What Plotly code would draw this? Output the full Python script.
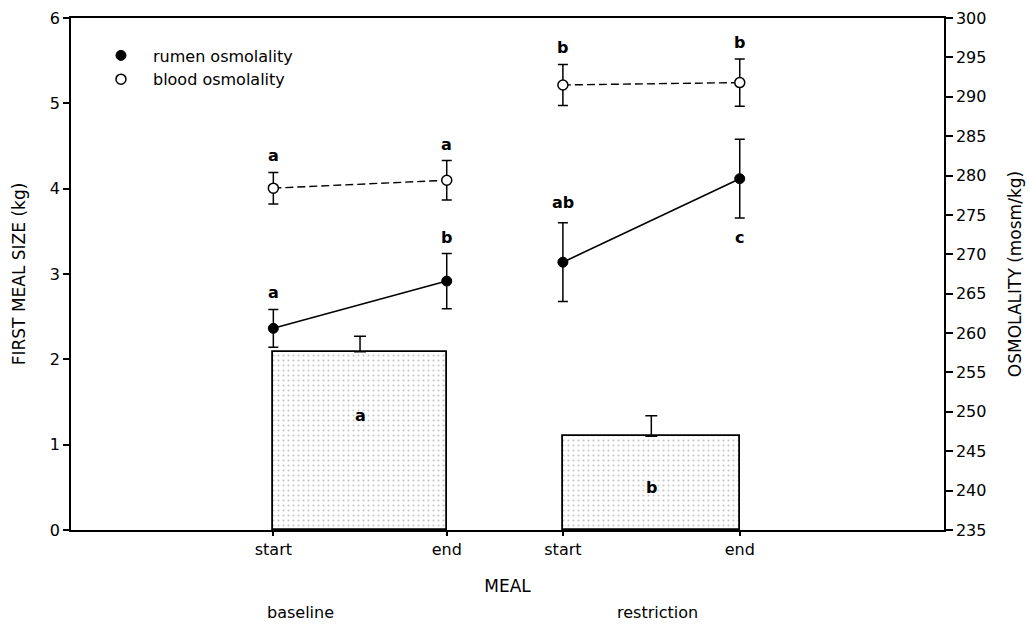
import plotly.graph_objects as go
from plotly.subplots import make_subplots

# x positions of the MEAL start / end points for each period
meal_x = [1.0, 2.0, 2.67, 3.69]
meal_labels = ["start", "end", "start", "end"]
periods = ["baseline", "restriction"]

# first meal size (kg), one bar per period
meal_size = [2.09, 1.10]
meal_size_se = [0.18, 0.24]
meal_size_letters = ["a", "b"]

# rumen and blood osmolality (mosm/kg)
rumen_osm = [260.6, 266.6, 269.0, 279.6]
rumen_se = [2.4, 3.5, 5.0, 5.0]
rumen_letters = ["a", "b", "ab", "c"]

blood_osm = [278.4, 279.4, 291.5, 291.8]
blood_se = [2.0, 2.5, 2.6, 3.0]
blood_letters = ["a", "a", "b", "b"]

FONT = "DejaVu Sans"
BLACK = "black"

fig = make_subplots(specs=[[{"secondary_y": True}]])

# bars span from start to end of each period
bar_x = [(meal_x[0] + meal_x[1]) / 2, (meal_x[2] + meal_x[3]) / 2]
bar_w = [meal_x[1] - meal_x[0], meal_x[3] - meal_x[2]]

fig.add_trace(go.Bar(
    x=bar_x, y=meal_size, width=bar_w,
    marker=dict(color="white", line=dict(color=BLACK, width=1.8),
                pattern=dict(shape=".", fgcolor="#8a8a8a", bgcolor="white",
                             size=5, solidity=0.15, fillmode="overlay")),
    error_y=dict(type="data", symmetric=False, array=meal_size_se,
                 arrayminus=[0, 0], color=BLACK, thickness=1.5, width=6),
    showlegend=False, hoverinfo="skip",
), secondary_y=False)


def gapped(vals):
    # connect start->end inside each period only
    return [vals[0], vals[1], None, vals[2], vals[3]]


gx = [meal_x[0], meal_x[1], None, meal_x[2], meal_x[3]]

fig.add_trace(go.Scatter(x=gx, y=gapped(rumen_osm), mode="lines",
                         line=dict(color=BLACK, width=1.6),
                         showlegend=False, hoverinfo="skip"), secondary_y=True)
fig.add_trace(go.Scatter(x=gx, y=gapped(blood_osm), mode="lines",
                         line=dict(color=BLACK, width=1.4, dash="8px,4px"),
                         showlegend=False, hoverinfo="skip"), secondary_y=True)

fig.add_trace(go.Scatter(
    x=meal_x, y=rumen_osm, mode="markers", name="rumen osmolality",
    marker=dict(symbol="circle", size=10, color=BLACK,
                line=dict(color=BLACK, width=1)),
    error_y=dict(type="data", array=rumen_se, color=BLACK, thickness=1.5, width=5),
), secondary_y=True)
fig.add_trace(go.Scatter(
    x=meal_x, y=blood_osm, mode="markers", name="blood osmolality",
    marker=dict(symbol="circle", size=10, color="white",
                line=dict(color=BLACK, width=1.5)),
    error_y=dict(type="data", array=blood_se, color=BLACK, thickness=1.5, width=5),
), secondary_y=True)

annotations = []
letter_font = dict(family=FONT, size=16, color=BLACK, weight="bold")

# significance letters on the osmolality points
for xv, v, se, lab in zip(meal_x, blood_osm, blood_se, blood_letters):
    annotations.append(dict(x=xv, y=v + se, xref="x", yref="y2", text=lab,
                            showarrow=False, yanchor="bottom", yshift=5,
                            font=letter_font))
for xv, v, se, lab in zip(meal_x, rumen_osm, rumen_se, rumen_letters):
    if lab == "c":
        annotations.append(dict(x=xv, y=v - se, xref="x", yref="y2", text=lab,
                                showarrow=False, yanchor="top", yshift=-8,
                                font=letter_font))
    else:
        annotations.append(dict(x=xv, y=v + se, xref="x", yref="y2", text=lab,
                                showarrow=False, yanchor="bottom",
                                yshift=9 if lab == "ab" else 5,
                                font=letter_font))

# letters inside the bars
for xv, yv, lab in zip(bar_x, [1.34, 0.50], meal_size_letters):
    annotations.append(dict(x=xv, y=yv, xref="x", yref="y", text=lab,
                            showarrow=False, font=letter_font))

# period names under the axis title
for xp, lab in zip([300, 657], periods):
    annotations.append(dict(x=(xp - 71) / 873, y=-0.162, xref="paper", yref="paper",
                            text=lab, showarrow=False, xanchor="center",
                            yanchor="middle",
                            font=dict(family=FONT, size=16, color=BLACK)))

fig.update_layout(
    width=1030, height=625,
    margin=dict(l=71, r=86, t=18, b=95, autoexpand=False),
    paper_bgcolor="white", plot_bgcolor="white",
    font=dict(family=FONT, size=16, color=BLACK),
    bargap=0,
    annotations=annotations,
    legend=dict(x=0.0206, y=0.960, xanchor="left", yanchor="top",
                itemwidth=54,
                bgcolor="rgba(0,0,0,0)", font=dict(family=FONT, size=16),
                tracegroupgap=0),
)

fig.update_xaxes(
    domain=[0, 1],
    range=[-0.167, 4.868], tickmode="array", tickvals=meal_x, ticktext=meal_labels,
    ticks="outside", ticklen=4, tickwidth=1.5, tickcolor=BLACK,
    showline=True, linecolor=BLACK, linewidth=1.5, mirror=True,
    showgrid=False, zeroline=False, automargin=False,
    title=dict(text="MEAL", font=dict(family=FONT, size=17), standoff=22),
    tickfont=dict(family=FONT, size=16),
)
fig.update_yaxes(
    range=[0, 6], dtick=1, ticks="outside", ticklen=6, tickwidth=1.5,
    tickcolor=BLACK, showline=True, linecolor=BLACK, linewidth=1.5,
    showgrid=False, zeroline=False, automargin=False,
    title=dict(text="FIRST MEAL SIZE (kg)", font=dict(family=FONT, size=17),
               standoff=20),
    tickfont=dict(family=FONT, size=16),
    secondary_y=False,
)
fig.update_yaxes(
    range=[235, 300], dtick=5, ticks="outside", ticklen=7, tickwidth=1.5,
    tickcolor=BLACK, showline=True, linecolor=BLACK, linewidth=1.5,
    showgrid=False, zeroline=False, automargin=False,
    title=dict(text="OSMOLALITY (mosm/kg)", font=dict(family=FONT, size=17),
               standoff=24),
    tickfont=dict(family=FONT, size=16),
    secondary_y=True,
)

fig.write_html("out.html")
